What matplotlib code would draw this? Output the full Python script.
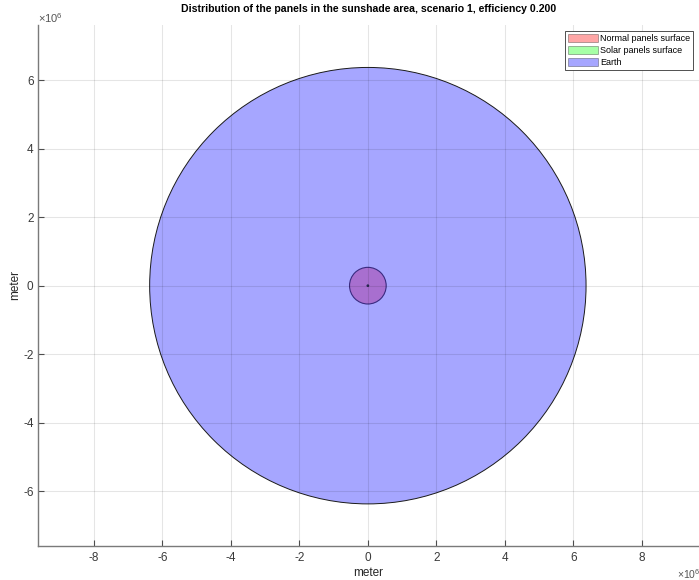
import numpy as np
import matplotlib
matplotlib.use("Agg")
import matplotlib.pyplot as plt
from matplotlib.patches import Circle, Patch

# radii in meters
earth_radius = 6.371e6
normal_radius = 0.535e6
solar_radius = 0.04e6

labels = ["Normal panels surface", "Solar panels surface", "Earth"]
colors = ["#ff0000", "#00ff00", "#0000ff"]
alpha = 0.35

xticks = [-8, -6, -4, -2, 0, 2, 4, 6, 8]
yticks = [-6, -4, -2, 0, 2, 4, 6]

plt.rcParams['font.family'] = ['Liberation Sans', 'DejaVu Sans']
plt.rcParams['mathtext.fontset'] = 'custom'
plt.rcParams['mathtext.rm'] = 'Liberation Sans'
plt.rcParams['mathtext.it'] = 'Liberation Sans:italic'

fig = plt.figure(figsize=(6.99, 5.80), dpi=100)
ax = fig.add_axes([37.7/699, 34/580, 661/699, 521/580])

# earth
ax.add_patch(Circle((0, 0), earth_radius, facecolor=colors[2], alpha=alpha, edgecolor='none', zorder=1))
ax.add_patch(Circle((0, 0), earth_radius, facecolor='none', edgecolor='#1a1a1a', lw=0.7, zorder=1.1))
# normal panels (overlapping the earth)
ax.add_patch(Circle((0, 0), normal_radius, facecolor='#a86fcf', edgecolor='none', zorder=1.2))
ax.add_patch(Circle((0, 0), normal_radius, facecolor='none', edgecolor='#3a2a80', lw=0.8, zorder=1.3))
# solar panels
ax.add_patch(Circle((0, 0), solar_radius, facecolor='#2a2a55', edgecolor='none', zorder=1.4))

ax.set_xlim(-9.64e6, 9.66e6)
ax.set_ylim(-7.6e6, 7.61e6)
ax.set_xticks(np.array(xticks) * 1e6)
ax.set_yticks(np.array(yticks) * 1e6)
ax.set_xticklabels([str(t) for t in xticks])
ax.set_yticklabels([str(t) for t in yticks])

ax.grid(True, color='black', alpha=0.1, lw=0.8, zorder=2)
for s in ['top', 'right']:
    ax.spines[s].set_visible(False)
for s in ['left', 'bottom']:
    ax.spines[s].set_color('#7a7a7a')
    ax.spines[s].set_linewidth(1.0)
ax.tick_params(direction='in', length=4, color='#4d4d4d', labelsize=8.5,
               labelcolor='#3a3a3a')
ax.tick_params(axis='x', pad=4)
ax.tick_params(axis='y', pad=3)

ax.set_xlabel("meter", fontsize=8.5, color='#262626')
ax.set_ylabel("meter", fontsize=8.5, color='#262626')
ax.xaxis.set_label_coords(0.5, -(567 - 546) / 521)
ax.yaxis.set_label_coords(-(37.7 - 21) / 661, 0.5)
ax.set_title("Distribution of the panels in the sunshade area, scenario 1, efficiency 0.200",
             fontsize=7.6, fontweight='bold', pad=9)

fig.text(38/699, 1 - 18/580, r"$\times10^{6}$", fontsize=8, color='#555555', va='center')
fig.text(677/699, 1 - 574/580, r"$\times10^{6}$", fontsize=7.5, color='#555555', va='center')

handles = [Patch(facecolor=c, alpha=alpha, edgecolor='k', lw=0.6) for c in colors]
leg = ax.legend(handles, labels, loc='upper right', bbox_to_anchor=(655/661, 1 - 6/521),
                prop={'size': 6.5}, frameon=True, fancybox=False, framealpha=1,
                borderpad=0.3, handlelength=3.3, handleheight=1.1, handletextpad=0.25,
                labelspacing=0.28, borderaxespad=0)
leg.get_frame().set_edgecolor('#333333')
leg.get_frame().set_linewidth(0.6)
leg.set_zorder(5)

fig.savefig("out.png", dpi=100)
